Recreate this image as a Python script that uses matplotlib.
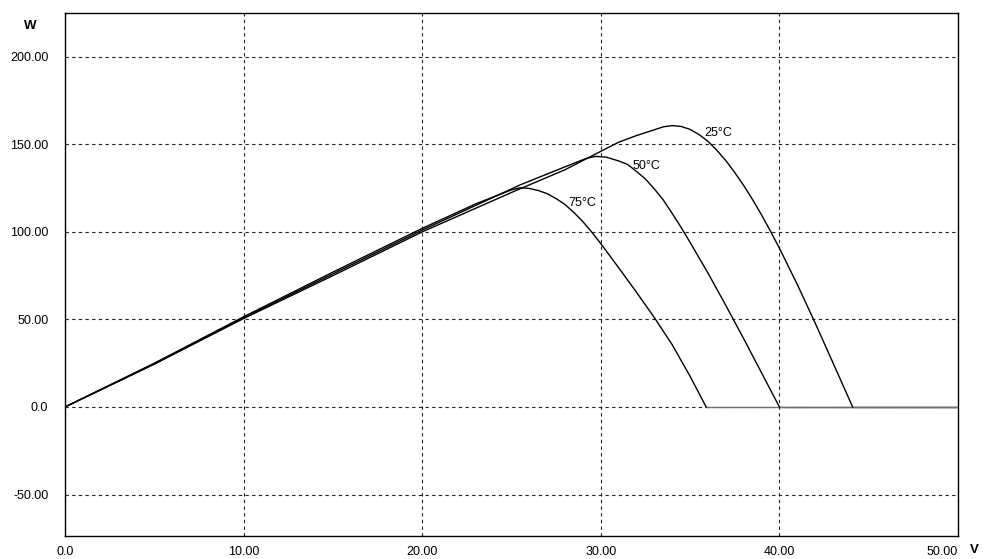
import matplotlib.pyplot as plt
import numpy as np

# PV module power curves at three cell temperatures
v25 = [0, 5, 10, 15, 20, 25, 28, 30, 31, 32, 33, 33.5, 34.0, 34.5, 35.0, 35.5,
       36.0, 36.5, 37.0, 37.5, 38.0, 38.5, 39.0, 39.5, 40.0, 41.0, 42.0, 43.0, 44.1, 50]
p25 = [0, 24.5, 50.5, 75, 100, 122.5, 135.5, 146, 151.2, 155, 158.3, 160, 160.7,
       160.2, 158.5, 155.6, 151.7, 146.6, 140.7, 133.9, 126.5, 118.4, 109.7, 100.4,
       90.7, 70, 48, 25.2, 0, 0]

v50 = [0, 5, 10, 15, 20, 25.5, 28.5, 29.2, 29.7, 30.3, 31.0, 31.5, 32.0, 32.5,
       33.0, 33.5, 34.0, 34.5, 35.0, 36.0, 37.0, 38.0, 39.0, 40.0, 50]
p50 = [0, 24.5, 51, 76, 101, 126.9, 139.2, 142, 143.1, 142.7, 140.5, 138.5, 134.5,
       130.2, 124.5, 118.2, 110.5, 102.5, 94, 76.5, 58, 39, 19.5, 0, 0]

v75 = [0, 5, 10, 15, 20, 23, 24.5, 25.0, 25.5, 26.0, 26.5, 27.0, 27.5, 28.0, 28.5,
       29.0, 29.5, 30.0, 31.0, 32.0, 33.0, 34.0, 35.0, 35.9, 36.3, 50]
p75 = [0, 25, 51.5, 77, 102, 116, 122, 124, 125.2, 124.8, 123.6, 121.8, 119.0,
       115.6, 111, 105.8, 99.8, 93.3, 79.5, 65.5, 51, 35.5, 17.5, 0, 0, 0]

series = [("25°C", v25, p25, (35.8, 156.7)),
          ("50°C", v50, p50, (31.8, 137.9)),
          ("75°C", v75, p75, (28.2, 116.4))]

x_ticks = [0, 10, 20, 30, 40, 50]
x_labels = ["0.0", "10.00", "20.00", "30.00", "40.00", "50.00"]
y_ticks = [-50, 0, 50, 100, 150, 200]
y_labels = ["-50.00", "0.0", "50.00", "100.00", "150.00", "200.00"]

plt.rcParams["font.family"] = ["Liberation Sans", "DejaVu Sans"]

fig = plt.figure(figsize=(9.84, 5.59), dpi=100)
ax = fig.add_axes([65 / 984, 1 - 536 / 559, (958 - 65) / 984, (536 - 13) / 559])

for label, v, p, (tx, ty) in series:
    v = np.asarray(v)
    p = np.asarray(p)
    peak = int(np.argmax(p))
    i0 = peak + int(np.argmax(p[peak:] <= 0))
    ax.plot(v[:i0 + 1], p[:i0 + 1], color="black", linewidth=1.0, zorder=3)
    ax.plot(v[i0:], p[i0:], color="#707070", linewidth=1.0, zorder=2)
    ax.text(tx, ty, label, fontsize=9, ha="left", va="center", color="black")

ax.set_xlim(0, 50)
ax.set_ylim(-73.7, 225)
ax.set_xticks(x_ticks)
ax.set_xticklabels(x_labels, fontsize=9)
ax.set_yticks(y_ticks)
ax.set_yticklabels(y_labels, fontsize=9)
ax.get_xticklabels()[-1].set_horizontalalignment("right")
ax.tick_params(length=0, pad=7)
ax.tick_params(axis="y", pad=12)

ax.grid(True, color="#222222", linestyle=(0, (3, 3)), linewidth=0.8)
for s in ax.spines.values():
    s.set_color("black")
    s.set_linewidth(1.0)

fig.text(30 / 984, 1 - 26 / 559, "W", fontsize=9.5, fontweight="bold",
         ha="center", va="center")
fig.text(974 / 984, 1 - 550 / 559, "V", fontsize=9.5, fontweight="bold",
         ha="center", va="center")

fig.savefig("out.png", dpi=100)
